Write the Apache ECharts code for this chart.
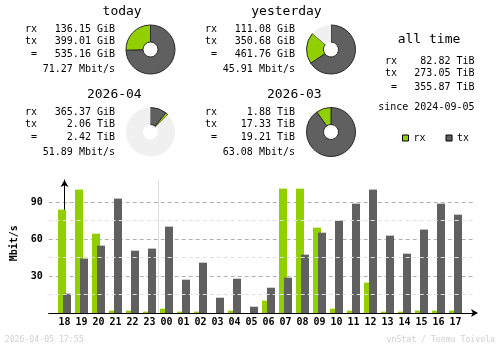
<!DOCTYPE html>
<html>
<head>
<meta charset="utf-8">
<script src="https://cdn.jsdelivr.net/npm/echarts@6.0.0/dist/echarts.min.js"></script>
<style>
html,body{margin:0;padding:0;background:#fff;}
#chart{width:500px;height:348px;}
</style>
</head>
<body>
<div id="chart"></div>
<script>
// ---- data ----
const panelTitles = ['today', 'yesterday', '2026-04', '2026-03'];
const rxValues = [136.15, 111.08, 365.37, 1.88];
const rxUnits = ['GiB', 'GiB', 'GiB', 'TiB'];
const txValues = [399.01, 350.68, 2.06, 17.33];
const txUnits = ['GiB', 'GiB', 'TiB', 'TiB'];
const totalValues = [535.16, 461.76, 2.42, 19.21];
const totalUnits = ['GiB', 'GiB', 'TiB', 'TiB'];
const rates = [71.27, 45.91, 51.89, 63.08];

const allTimeLabels = ['rx', 'tx', '='];
const allTimeValues = [82.82, 273.05, 355.87];
const allTimeUnit = 'TiB';
const sinceDate = '2024-09-05';

const hours = ['18','19','20','21','22','23','00','01','02','03','04','05','06','07','08','09','10','11','12','13','14','15','16','17'];
const rxRate = [83.8,100.0,64.3,1.9,1.9,1.1,3.5,1.1,1.1,0,1.9,0,10.0,100.8,100.8,69.2,3.5,1.9,24.6,1.1,1.1,1.9,1.9,1.9];
const txRate = [15.7,44.1,54.6,92.7,50.5,52.2,70.0,27.0,40.8,12.4,27.8,5.1,20.5,28.6,47.3,65.1,74.9,88.6,100.0,62.7,48.1,67.6,88.6,79.7];
const minorGrid = [15, 45, 75];
const dayBoundary = 5.5; // between 23 and 00
const timestamp = '2026-04-05 17:55';
const credit = 'vnStat / Teemu Toivola';

// ---- styles ----
const RX = '#92cf00', TX = '#606060', EMPTY = '#f0f0f0';
const MONO = '"DejaVu Sans Mono", monospace';
const F10 = '10px ' + MONO;
const F10B = 'bold 10px ' + MONO;
const F13 = '13px ' + MONO;
const FTINY = '8.2px ' + MONO;

const unitMul = {GiB: 1, TiB: 1024};
const toGiB = (v, u) => v * unitMul[u];

function txt(text, x, y, align, font, fill) {
  return {
    type: 'text', silent: true,
    style: {text: text, x: x, y: y, font: font, fill: fill || '#000',
            textAlign: align, align: align, textVerticalAlign: 'middle', verticalAlign: 'middle'}
  };
}

const graphics = [];
const pieSeries = [];
const pairMax = [];
for (let p = 0; p < 2; p++) {
  const a = toGiB(rxValues[2*p], rxUnits[2*p]) + toGiB(txValues[2*p], txUnits[2*p]);
  const b = toGiB(rxValues[2*p+1], rxUnits[2*p+1]) + toGiB(txValues[2*p+1], txUnits[2*p+1]);
  pairMax.push(Math.max(a, b));
}
for (let i = 0; i < panelTitles.length; i++) {
  const col = i % 2, row = Math.floor(i / 2);
  const xo = col * 180, yo = row * 83;
  graphics.push(txt(panelTitles[i], 141.7 + xo, 11.5 + yo, 'right', F13));
  graphics.push(txt('rx', 37 + xo, 29 + yo, 'right', F10));
  graphics.push(txt('tx', 37 + xo, 41 + yo, 'right', F10));
  graphics.push(txt('=', 37 + xo, 54.5 + yo, 'right', F10));
  graphics.push(txt(rxValues[i].toFixed(2) + ' ' + rxUnits[i], 115 + xo, 29 + yo, 'right', F10));
  graphics.push(txt(txValues[i].toFixed(2) + ' ' + txUnits[i], 115 + xo, 41 + yo, 'right', F10));
  graphics.push(txt(totalValues[i].toFixed(2) + ' ' + totalUnits[i], 115 + xo, 54.5 + yo, 'right', F10));
  graphics.push(txt(rates[i].toFixed(2) + ' Mbit/s', 115 + xo, 69 + yo, 'right', F10));

  const rxG = toGiB(rxValues[i], rxUnits[i]);
  const txG = toGiB(txValues[i], txUnits[i]);
  const filler = Math.max(0, pairMax[row] - rxG - txG);
  pieSeries.push({
    type: 'pie', silent: true, animation: false,
    center: [150.5 + col * 180.5, 49.5 + row * 82.5],
    radius: [7.5, 24.5], startAngle: 90, clockwise: true,
    label: {show: false}, labelLine: {show: false},
    data: [
      {value: txG, itemStyle: {color: TX, borderColor: '#2a2a2a', borderWidth: 1}},
      {value: rxG, itemStyle: {color: RX, borderColor: '#2a2a2a', borderWidth: 1}},
      {value: filler, itemStyle: {color: EMPTY, borderWidth: 0}}
    ]
  });
}

// all time block
graphics.push(txt('all time', 429, 39.2, 'center', F13));
const allY = [61.7, 73.5, 87.7];
for (let k = 0; k < allTimeLabels.length; k++) {
  graphics.push(txt(allTimeLabels[k], 397, allY[k], 'right', F10));
  graphics.push(txt(allTimeValues[k].toFixed(2) + ' ' + allTimeUnit, 474.5, allY[k], 'right', F10));
}
graphics.push(txt('since ' + sinceDate, 474.5, 107.8, 'right', F10));

// axis name (rotated) and footer
graphics.push({
  type: 'text', silent: true, x: 14.7, y: 243.3, rotation: Math.PI / 2,
  style: {text: 'Mbit/s', x: 0, y: 0, font: F10B, fill: '#000',
          textAlign: 'center', align: 'center', textVerticalAlign: 'middle', verticalAlign: 'middle'}
});
graphics.push(txt(timestamp, 4.7, 340, 'left', FTINY, '#d0d0d0'));
graphics.push(txt(credit, 495, 340, 'right', FTINY, '#d0d0d0'));

const Y_MAX = 107.8;
const catLeft = 56, catWidth = 408;
const catW = catWidth / hours.length;
const firstCenter = catLeft + catW / 2;
const g0Left = 48.7, g0Right = 473;

const option = {
  animation: false,
  backgroundColor: '#fff',
  textStyle: {fontFamily: MONO},
  legend: {
    data: ['rx', 'tx'], left: 397, top: 128, itemWidth: 6, itemHeight: 6, itemGap: 20,
    icon: 'rect', selectedMode: false,
    itemStyle: {borderColor: '#000', borderWidth: 1},
    textStyle: {fontFamily: MONO, fontSize: 10, color: '#000'}
  },
  grid: [
    {left: g0Left, right: 500 - g0Right, top: 180, bottom: 35},
    {left: catLeft, width: catWidth, top: 180, bottom: 35}
  ],
  xAxis: [
    {
      type: 'value', gridIndex: 0,
      min: (g0Left - firstCenter) / catW, max: (g0Right - firstCenter) / catW,
      axisLine: {show: true, lineStyle: {color: '#000', width: 1}, symbol: ['none', 'arrow'], symbolSize: [6, 7], symbolOffset: [0, 5]},
      axisTick: {show: false}, axisLabel: {show: false}, splitLine: {show: false}
    },
    {
      type: 'category', gridIndex: 1, data: hours,
      axisLine: {show: false}, axisTick: {show: false},
      axisLabel: {margin: 4, fontFamily: MONO, fontSize: 10, fontWeight: 'bold', color: '#000'},
      splitLine: {show: false}
    }
  ],
  yAxis: [
    {
      type: 'value', gridIndex: 0, min: 0, max: Y_MAX, interval: 30,
      axisLine: {show: true, lineStyle: {color: '#000', width: 1}, symbol: ['none', 'arrow'], symbolSize: [6, 7], symbolOffset: [0, 0]},
      axisTick: {show: false},
      axisLabel: {margin: 6, fontFamily: MONO, fontSize: 10, fontWeight: 'bold', color: '#000',
                  formatter: v => (v > 0 && v % 30 === 0) ? String(v) : ''},
      splitLine: {show: true, showMinLine: false, showMaxLine: false,
                  lineStyle: {color: '#b0b0b0', type: [4, 3], width: 1}}
    },
    {type: 'value', gridIndex: 1, min: 0, max: Y_MAX, show: false}
  ],
  graphic: graphics,
  series: [
    {
      name: 'rx', type: 'bar', xAxisIndex: 1, yAxisIndex: 1, data: rxRate,
      barWidth: 8, barGap: '-37.5%', itemStyle: {color: RX, borderWidth: 0}, silent: true
    },
    {
      name: 'tx', type: 'bar', xAxisIndex: 1, yAxisIndex: 1, data: txRate,
      barWidth: 8, barGap: '-37.5%', itemStyle: {color: TX, borderWidth: 0}, silent: true
    },
    {
      type: 'line', xAxisIndex: 0, yAxisIndex: 0, data: [], silent: true, z: 1,
      markLine: {
        silent: true, symbol: 'none', animation: false, label: {show: false},
        data: minorGrid.map(v => ({yAxis: v, lineStyle: {color: '#e0e0e0', type: [4, 3], width: 1}}))
          .concat([{xAxis: dayBoundary, lineStyle: {color: '#dcdcdc', type: 'solid', width: 1}}])
      }
    }
  ].concat(pieSeries)
};

const chart = echarts.init(document.getElementById('chart'), null, {renderer: 'canvas'});
chart.setOption(option);
</script>
</body>
</html>
